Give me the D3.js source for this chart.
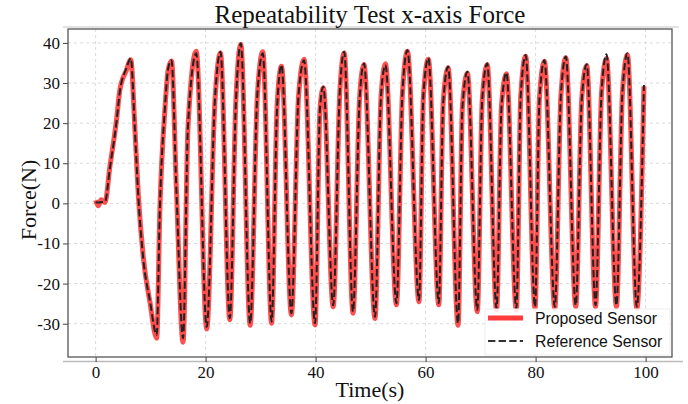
<!DOCTYPE html>
<html>
<head>
<meta charset="utf-8">
<script src="https://cdn.jsdelivr.net/npm/d3@7"></script>
<style>
  body { margin: 0; background: #fff; }
  .tick text { font-family: "Liberation Serif", "Times New Roman", serif; font-size: 17px; fill: #111; }
</style>
</head>
<body>
<script>
// values (peaks, troughs and a few flank points)
var time = [0, 0.5, 1.0, 1.7, 2.6, 3.8, 4.4, 5.6, 6.4, 7.1, 7.75, 8.65, 9.9, 11.1, 11.7, 12.6, 13.2, 13.8,
  14.7, 15.9, 16.8, 18.3, 20.2, 21.7, 22.7, 24.4, 25.5, 26.4, 28.1, 29.4, 30.4, 32.0, 33.0, 33.8,
  35.6, 36.9, 37.9, 39.9, 40.8, 41.4, 43.2, 44.4, 45.2, 46.8, 48.0, 48.8, 50.8, 51.9, 52.7,
  54.7, 55.8, 56.7, 58.8, 59.6, 60.5, 62.4, 63.2, 64.1, 65.9, 66.7, 67.6, 69.4, 70.3, 71.2,
  72.9, 73.8, 74.7, 76.5, 77.3, 78.2, 79.9, 80.7, 81.6, 83.5, 84.6, 85.5, 87.3, 88.4, 89.3,
  90.9, 92.0, 92.9, 94.7, 95.8, 96.7, 98.4, 99.7];

var reference = [0.3, 0.2, 0.3, 0.4, 8.8, 20.3, 27.8, 33.7, 36.2, 19.5, 2, -13.6, -24.5, -32.8, -0.4, 23.8, 33.7, 35.7,
  2.9, -33.6, 19.5, 37.4, -30.8, 26, 37.8, -28.6, 25, 39.9, -29.9, 27, 37.4, -29.5, 24, 34.5,
  -27.4, 27, 35.7, -29.9, 23.8, 29.1, -25.4, 28, 37.8, -27, 26, 34.9, -28.3, 27, 34.5,
  -24.9, 28, 38.2, -24.1, 27, 36.2, -24.9, 25, 34.1, -29.9, 24, 32.8, -26.6, 26, 34.9,
  -26.2, 24, 32.6, -26.2, 27, 37, -25.8, 26, 35.7, -25.8, 27, 36.6, -25.4, 26, 34.7,
  -25.4, 28, 37.2, -25.4, 28, 37.4, -25.8, 29.5];

var proposed = [0.8, -0.6, 0.9, 0.2, 9.2, 20.8, 28.2, 33.2, 35.8, 19.8, 2.4, -13.2, -24.8, -33.6, -0.8, 23.4, 33.4, 35.5,
  3.3, -34.6, 19.1, 37.9, -31.3, 25.6, 37.5, -29.0, 25.4, 39.6, -30.4, 26.6, 37.8, -29.9, 24.3, 34.2,
  -27.8, 26.7, 35.9, -30.3, 23.5, 28.8, -25.8, 27.7, 37.5, -27.4, 26.3, 34.6, -28.7, 26.6, 34.8,
  -25.3, 27.7, 37.9, -24.5, 26.7, 35.9, -25.3, 25.3, 33.8, -30.4, 24.3, 32.5, -27.0, 25.7, 34.6,
  -26.6, 24.3, 32.3, -26.6, 26.7, 36.7, -26.2, 26.3, 35.4, -26.2, 26.7, 36.3, -25.8, 26.3, 34.4,
  -25.8, 27.7, 36.2, -25.8, 27.7, 37.0, -26.2, 29.2];

var xTicks = [0, 20, 40, 60, 80, 100];
var yTicks = [-30, -20, -10, 0, 10, 20, 30, 40];
var seriesNames = ["Proposed Sensor", "Reference Sensor"];

var W = 688, H = 404;
var plot = {left: 68, right: 672, top: 29, bottom: 357};

var svg = d3.select("body").append("svg")
  .attr("width", W)
  .attr("height", H);

var x = d3.scaleLinear().domain([-5.02, 104.8]).range([plot.left, plot.right]);
var y = d3.scaleLinear().domain([-38.3, 43.47]).range([plot.bottom, plot.top]);

// faint outer lines of the figure
svg.append("line").attr("x1", 63).attr("x2", 679).attr("y1", 27).attr("y2", 27)
  .attr("stroke", "#d8d8d8").attr("stroke-width", 1.5);
svg.append("line").attr("x1", 63).attr("x2", 683).attr("y1", 361.5).attr("y2", 361.5)
  .attr("stroke", "#bbb").attr("stroke-width", 1.5);

// grid
svg.append("g").selectAll("line")
  .data(xTicks).enter().append("line")
  .attr("x1", function(d){ return x(d); })
  .attr("x2", function(d){ return x(d); })
  .attr("y1", plot.top).attr("y2", plot.bottom)
  .attr("stroke", "#d0d0d0").attr("stroke-width", 0.8).attr("stroke-dasharray", "3,3");
svg.append("g").selectAll("line")
  .data(yTicks).enter().append("line")
  .attr("x1", plot.left).attr("x2", plot.right)
  .attr("y1", function(d){ return y(d); })
  .attr("y2", function(d){ return y(d); })
  .attr("stroke", "#d0d0d0").attr("stroke-width", 0.8).attr("stroke-dasharray", "3,3");

// axes (plain hyphen minus like the original)
var fmt = function(d){ return String(d); };
var xAxis = d3.axisBottom(x).tickValues(xTicks).tickFormat(fmt).tickSize(5).tickPadding(4);
var yAxis = d3.axisLeft(y).tickValues(yTicks).tickFormat(fmt).tickSize(5).tickPadding(3);

var gx = svg.append("g")
  .attr("transform", "translate(0," + plot.bottom + ")")
  .call(xAxis);
var gy = svg.append("g")
  .attr("transform", "translate(" + plot.left + ",0)")
  .call(yAxis);
gx.select(".domain").remove();
gy.select(".domain").remove();
svg.selectAll(".tick line").attr("stroke", "#444");

// lines
var data = time.map(function(t, i){
  return {t: t, p: proposed[i], r: reference[i]};
});

var lineP = d3.line()
  .x(function(d){ return x(d.t); })
  .y(function(d){ return y(d.p); })
  .curve(d3.curveMonotoneX);
var lineR = d3.line()
  .x(function(d){ return x(d.t); })
  .y(function(d){ return y(d.r); })
  .curve(d3.curveMonotoneX);

svg.append("path")
  .datum(data)
  .attr("d", lineP)
  .attr("fill", "none")
  .attr("stroke", "#ff3b3b")
  .attr("stroke-opacity", 0.9)
  .attr("stroke-width", 5)
  .attr("stroke-linejoin", "round");

svg.append("path")
  .datum(data)
  .attr("d", lineR)
  .attr("fill", "none")
  .attr("stroke", "#222")
  .attr("stroke-width", 2)
  .attr("stroke-dasharray", "7.4,3.2");

// frame
svg.append("rect")
  .attr("x", plot.left).attr("y", plot.top)
  .attr("width", plot.right - plot.left)
  .attr("height", plot.bottom - plot.top)
  .attr("fill", "none")
  .attr("stroke", "#555")
  .attr("stroke-width", 1.3);

// legend
var legend = svg.append("g");
legend.append("rect")
  .attr("x", 485).attr("y", 309)
  .attr("width", 185).attr("height", 46)
  .attr("fill", "#fff").attr("fill-opacity", 0.85)
  .attr("stroke", "#eee");

var legendStyles = [
  {color: "#ff3b3b", width: 5, dash: null},
  {color: "#333", width: 2, dash: "7.4,3.2"}
];

seriesNames.forEach(function(name, i){
  var ly = 318 + 23 * i;
  legend.append("line")
    .attr("x1", 488).attr("x2", 523)
    .attr("y1", ly).attr("y2", ly)
    .attr("stroke", legendStyles[i].color)
    .attr("stroke-width", legendStyles[i].width)
    .attr("stroke-dasharray", legendStyles[i].dash);
  legend.append("text")
    .attr("x", 535).attr("y", ly + 6)
    .attr("font-family", "'Liberation Sans', Arial, sans-serif")
    .attr("font-size", "15.8px")
    .attr("fill", "#111")
    .text(name);
});

// titles
svg.append("text")
  .attr("x", 370).attr("y", 23)
  .attr("text-anchor", "middle")
  .attr("font-family", "'Liberation Serif', 'Times New Roman', serif")
  .attr("font-size", "25px")
  .attr("fill", "#111")
  .text("Repeatability Test x-axis Force");

svg.append("text")
  .attr("x", 370).attr("y", 397)
  .attr("text-anchor", "middle")
  .attr("font-family", "'Liberation Serif', 'Times New Roman', serif")
  .attr("font-size", "22px")
  .attr("fill", "#111")
  .text("Time(s)");

svg.append("text")
  .attr("transform", "translate(36,200) rotate(-90)")
  .attr("text-anchor", "middle")
  .attr("font-family", "'Liberation Serif', 'Times New Roman', serif")
  .attr("font-size", "22px")
  .attr("fill", "#111")
  .text("Force(N)");
</script>
</body>
</html>
